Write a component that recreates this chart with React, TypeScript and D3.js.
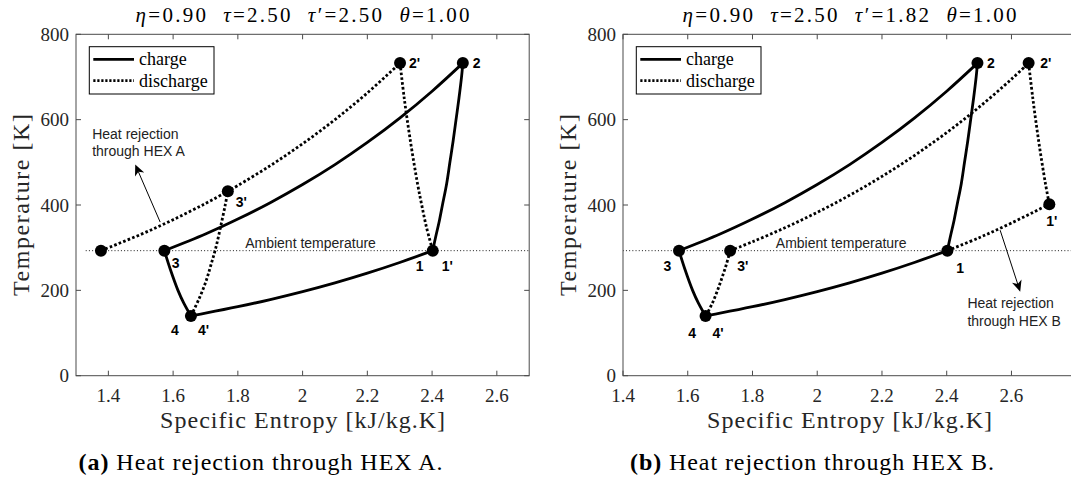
import React from 'react';
import * as d3 from 'd3';

type Pt = [number, number];

// ---------- axes / ticks ----------
const yTicks = [0, 200, 400, 600, 800];
const xTicksA = [1.4, 1.6, 1.8, 2.0, 2.2, 2.4, 2.6];
const xTicksB = [1.4, 1.6, 1.8, 2.0, 2.2, 2.4, 2.6];
const xDomainA: Pt = [1.3, 2.7];
const xDomainB: Pt = [1.4, 2.8];
const ambientT = 293;
const ambientRange: Pt = [1.33, 2.9];

// ---------- charge cycle (same in both panels) ----------
const chargeHighP: Pt[] = [[1.573, 293], [1.7, 332], [1.8, 367], [1.9, 405.5], [2.0, 448], [2.1, 494.7], [2.2, 546.5], [2.3, 603.6], [2.4, 666.7], [2.495, 732.5]];
const chargeLowP: Pt[] = [[1.655, 140], [1.7, 146.4], [1.8, 161.6], [1.9, 178.5], [2.0, 197.1], [2.1, 217.6], [2.2, 240.3], [2.3, 265.3], [2.402, 293]];
const chargeCompression: Pt[] = [[2.402, 293], [2.411, 325], [2.423, 365], [2.432, 400], [2.445, 450], [2.455, 500], [2.465, 550], [2.474, 600], [2.483, 650], [2.491, 700], [2.495, 732.5]];
const chargeExpansion: Pt[] = [[1.573, 293], [1.591, 250], [1.615, 200], [1.633, 170], [1.655, 140]];

// ---------- discharge, panel (a) ----------
const dischAHighP: Pt[] = [[1.377, 293], [1.5, 331], [1.6, 365.5], [1.7, 403.6], [1.769, 432.2], [1.8, 445.7], [1.9, 492.2], [2.0, 543.5], [2.1, 600.1], [2.2, 662.6], [2.301, 732.5]];
const dischACompression: Pt[] = [[1.655, 140], [1.68, 180], [1.701, 220], [1.717, 260], [1.732, 300], [1.747, 350], [1.761, 400], [1.769, 432.2]];
const dischAExpansion: Pt[] = [[2.301, 732.5], [2.314, 650], [2.333, 550], [2.355, 450], [2.368, 400], [2.382, 350], [2.402, 293]];

// ---------- discharge, panel (b) ----------
const dischBHighP: Pt[] = [[1.731, 293], [1.8, 313.8], [1.9, 346.6], [2.0, 382.8], [2.1, 422.8], [2.2, 467], [2.3, 515.8], [2.4, 569.7], [2.5, 629.2], [2.6, 694.9], [2.653, 732.5]];
const dischBCompression: Pt[] = [[1.656, 140], [1.676, 170], [1.692, 200], [1.706, 230], [1.719, 260], [1.731, 293]];
const dischBExpansion: Pt[] = [[2.653, 732.5], [2.666, 650], [2.684, 550], [2.705, 450], [2.717, 402]];
const dischBRejection: Pt[] = [[2.402, 293], [2.5, 323.4], [2.6, 357.8], [2.717, 402]];

// ---------- state points ----------
const statesA: Pt[] = [[2.402, 293], [2.495, 732.5], [2.301, 732.5], [1.573, 293], [1.769, 432.2], [1.655, 140], [1.377, 293]];
const statesB: Pt[] = [[2.402, 293], [2.717, 402], [2.495, 732.5], [2.653, 732.5], [1.573, 293], [1.731, 293], [1.655, 140]];

// labels: text, attached state (s,T), pixel offset
const labelsA: { t: string; at: Pt; dx: number; dy: number }[] = [
  { t: '2', at: [2.495, 732.5], dx: 10, dy: 0 },
  { t: "2'", at: [2.301, 732.5], dx: 9, dy: 0 },
  { t: "3'", at: [1.769, 432.2], dx: 8, dy: 11 },
  { t: '3', at: [1.573, 293], dx: 7.5, dy: 12 },
  { t: '1', at: [2.402, 293], dx: -17, dy: 15 },
  { t: "1'", at: [2.402, 293], dx: 9, dy: 15 },
  { t: '4', at: [1.655, 140], dx: -20, dy: 14.5 },
  { t: "4'", at: [1.655, 140], dx: 7, dy: 14.5 },
];
const labelsB: { t: string; at: Pt; dx: number; dy: number }[] = [
  { t: '2', at: [2.495, 732.5], dx: 9.6, dy: 0 },
  { t: "2'", at: [2.653, 732.5], dx: 11.7, dy: 0 },
  { t: '3', at: [1.573, 293], dx: -15.5, dy: 15 },
  { t: "3'", at: [1.731, 293], dx: 7, dy: 15 },
  { t: '1', at: [2.402, 293], dx: 9, dy: 17 },
  { t: "1'", at: [2.717, 402], dx: -3, dy: 17 },
  { t: '4', at: [1.655, 140], dx: -17.4, dy: 17 },
  { t: "4'", at: [1.655, 140], dx: 7, dy: 17 },
];

const W = 1071;
const H = 482;
const AX_TOP = 34.3;
const AX_BOTTOM = 375.7;
const AX_W = 453.2;

const SERIF = '"Liberation Serif", "Times New Roman", serif';
const SANS = '"Liberation Sans", Arial, Helvetica, sans-serif';
const AXC = '#4a4a4a';
const TXC = '#262626';

type PanelCfg = {
  id: string;
  left: number;
  xDomain: Pt;
  xTicks: number[];
  tauPrime: string;
  discharge: Pt[][];
  states: Pt[];
  labels: { t: string; at: Pt; dx: number; dy: number }[];
  arrowFrom: Pt;
  arrowTo: Pt;
  noteAt: Pt;
  noteLines: string[];
  noteGapT: number;
  ambientTextX: number;
  caption: [string, string];
  captionX: number;
};

function Arrow({ x1, y1, x2, y2 }: { x1: number; y1: number; x2: number; y2: number }) {
  const ang = Math.atan2(y2 - y1, x2 - x1);
  const L = 11;
  const Wd = 5;
  const back = 8;
  const ux = Math.cos(ang), uy = Math.sin(ang);
  const px = -uy, py = ux;
  const bx = x2 - ux * L, by = y2 - uy * L;
  const nx = x2 - ux * back, ny = y2 - uy * back;
  const d = `M${x2},${y2} L${bx + px * Wd},${by + py * Wd} L${nx},${ny} L${bx - px * Wd},${by - py * Wd} Z`;
  return (
    <g>
      <line x1={x1} y1={y1} x2={nx} y2={ny} stroke="#000" strokeWidth={1} />
      <path d={d} fill="#000" />
    </g>
  );
}

function Panel({ p }: { p: PanelCfg }) {
  const x = d3.scaleLinear().domain(p.xDomain).range([p.left, p.left + AX_W]);
  const y = d3.scaleLinear().domain([0, 800]).range([AX_BOTTOM, AX_TOP]);
  const line = d3
    .line<Pt>()
    .x((d) => x(d[0]))
    .y((d) => y(d[1]))
    .curve(d3.curveCatmullRom.alpha(0.5));
  const cx = p.left + AX_W / 2;
  const clipId = `clip-${p.id}`;
  const solid = { fill: 'none', stroke: '#000', strokeWidth: 2.8, strokeLinejoin: 'round' as const };
  const dotted = { fill: 'none', stroke: '#000', strokeWidth: 2.8, strokeDasharray: '2.6 2.2' };
  const lx = p.left + 13.3;
  const ly = AX_TOP + 12.4;
  const tk = 5;
  return (
    <g>
      <defs>
        <clipPath id={clipId}>
          <rect x={p.left} y={AX_TOP} width={AX_W} height={AX_BOTTOM - AX_TOP} />
        </clipPath>
      </defs>
      {/* title */}
      <text x={cx} y={22} textAnchor="middle" fontFamily={SERIF} fontSize={21} fill="#000" textLength={334} lengthAdjust="spacing" style={{ whiteSpace: 'pre' }}>
        <tspan fontStyle="italic">η</tspan>
        <tspan>{'=0.90  '}</tspan>
        <tspan fontStyle="italic">τ</tspan>
        <tspan>{'=2.50  '}</tspan>
        <tspan fontStyle="italic">τ</tspan>
        <tspan>{'′=' + p.tauPrime + '  '}</tspan>
        <tspan fontStyle="italic">θ</tspan>
        <tspan>{'=1.00'}</tspan>
      </text>

      <g clipPath={`url(#${clipId})`}>
        <line x1={x(ambientRange[0])} x2={x(ambientRange[1])} y1={y(ambientT)} y2={y(ambientT)} stroke="#000" strokeWidth={0.9} strokeDasharray="1 2.2" />
        <path d={line(chargeHighP) || ''} {...solid} />
        <path d={line(chargeLowP) || ''} {...solid} />
        <path d={line(chargeCompression) || ''} {...solid} />
        <path d={line(chargeExpansion) || ''} {...solid} />
        {p.discharge.map((c, i) => (
          <path key={i} d={line(c) || ''} {...dotted} />
        ))}
      </g>

      {p.states.map((s, i) => (
        <circle key={i} cx={x(s[0])} cy={y(s[1])} r={6} fill="#000" />
      ))}
      {p.labels.map((l, i) => (
        <text key={i} x={x(l.at[0]) + l.dx} y={y(l.at[1]) + l.dy} dominantBaseline="central" fontFamily={SANS} fontWeight="bold" fontSize={14} fill="#000">
          {l.t}
        </text>
      ))}

      <text x={x(p.ambientTextX)} y={y(311)} textAnchor="middle" dominantBaseline="central" fontFamily={SANS} fontSize={14} fill="#222">
        Ambient temperature
      </text>

      <Arrow x1={x(p.arrowFrom[0])} y1={y(p.arrowFrom[1])} x2={x(p.arrowTo[0])} y2={y(p.arrowTo[1])} />
      {p.noteLines.map((t, i) => (
        <text key={i} x={x(p.noteAt[0])} y={y(p.noteAt[1] - i * p.noteGapT)} dominantBaseline="central" fontFamily={SANS} fontSize={14} fill="#222">
          {t}
        </text>
      ))}

      <rect x={p.left} y={AX_TOP} width={AX_W} height={AX_BOTTOM - AX_TOP} fill="none" stroke={AXC} strokeWidth={1} />
      {p.xTicks.map((v) => (
        <g key={v}>
          <line x1={x(v)} x2={x(v)} y1={AX_BOTTOM} y2={AX_BOTTOM - tk} stroke={AXC} />
          <line x1={x(v)} x2={x(v)} y1={AX_TOP} y2={AX_TOP + tk} stroke={AXC} />
          <text x={x(v)} y={395} textAnchor="middle" dominantBaseline="central" fontFamily={SERIF} fontSize={19} fill={TXC}>
            {String(+v.toFixed(1))}
          </text>
        </g>
      ))}
      {yTicks.map((v) => (
        <g key={v}>
          <line x1={p.left} x2={p.left + tk} y1={y(v)} y2={y(v)} stroke={AXC} />
          <line x1={p.left + AX_W} x2={p.left + AX_W - tk} y1={y(v)} y2={y(v)} stroke={AXC} />
          <text x={p.left - 7} y={y(v)} textAnchor="end" dominantBaseline="central" fontFamily={SERIF} fontSize={19} fill={TXC}>
            {String(v)}
          </text>
        </g>
      ))}

      <text x={cx} y={428} textAnchor="middle" fontFamily={SERIF} fontSize={24} fill={TXC} textLength={285} lengthAdjust="spacing">
        Specific Entropy [kJ/kg.K]
      </text>
      <text transform={`translate(${p.left - 47},${(AX_TOP + AX_BOTTOM) / 2}) rotate(-90)`} textAnchor="middle" fontFamily={SERIF} fontSize={24} fill={TXC} textLength={182} lengthAdjust="spacing">
        Temperature [K]
      </text>

      <rect x={lx} y={ly} width={124.7} height={47.3} fill="#fff" stroke="#000" strokeWidth={1} />
      <line x1={lx + 4} x2={lx + 44.7} y1={ly + 12.6} y2={ly + 12.6} stroke="#000" strokeWidth={2.8} />
      <line x1={lx + 4} x2={lx + 44.7} y1={ly + 34} y2={ly + 34} stroke="#000" strokeWidth={2.8} strokeDasharray="2.2 1.8" />
      <text x={lx + 49.7} y={ly + 12.6} dominantBaseline="central" fontFamily={SERIF} fontSize={18} fill="#000">
        charge
      </text>
      <text x={lx + 49.7} y={ly + 34} dominantBaseline="central" fontFamily={SERIF} fontSize={18} fill="#000">
        discharge
      </text>

      <text x={p.captionX} y={470} textAnchor="middle" fontFamily={SERIF} fontSize={24} fill="#000" textLength={364} lengthAdjust="spacing" style={{ whiteSpace: 'pre' }}>
        <tspan fontWeight="bold">{p.caption[0]}</tspan>
        <tspan>{' ' + p.caption[1]}</tspan>
      </text>
    </g>
  );
}

const panelA: PanelCfg = {
  id: 'a',
  left: 76,
  xDomain: xDomainA,
  xTicks: xTicksA,
  tauPrime: '2.50',
  discharge: [dischAHighP, dischACompression, dischAExpansion],
  states: statesA,
  labels: labelsA,
  arrowFrom: [1.56, 360],
  arrowTo: [1.483, 495],
  noteAt: [1.35, 566],
  noteLines: ['Heat rejection', 'through HEX A'],
  noteGapT: 40,
  ambientTextX: 2.0245,
  caption: ['(a)', 'Heat rejection through HEX A.'],
  captionX: 260.5,
};

const panelB: PanelCfg = {
  id: 'b',
  left: 623,
  xDomain: xDomainB,
  xTicks: xTicksB,
  tauPrime: '1.82',
  discharge: [dischBHighP, dischBCompression, dischBExpansion, dischBRejection],
  states: statesB,
  labels: labelsB,
  arrowFrom: [2.565, 341],
  arrowTo: [2.627, 197],
  noteAt: [2.464, 170.3],
  noteLines: ['Heat rejection', 'through HEX B'],
  noteGapT: 42.6,
  ambientTextX: 2.074,
  caption: ['(b)', 'Heat rejection through HEX B.'],
  captionX: 812,
};

export default function App() {
  return (
    <svg width={W} height={H} viewBox={`0 0 ${W} ${H}`} style={{ position: 'absolute', left: 0, top: 0, background: '#fff' }}>
      <rect x={0} y={0} width={W} height={H} fill="#fff" />
      <Panel p={panelA} />
      <Panel p={panelB} />
    </svg>
  );
}
